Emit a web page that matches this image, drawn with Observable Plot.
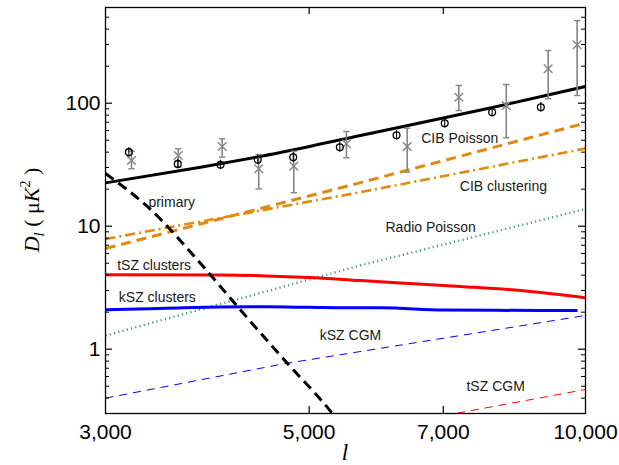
<!DOCTYPE html>
<html><head><meta charset="utf-8">
<script src="https://cdn.jsdelivr.net/npm/d3@7"></script>
<script src="https://cdn.jsdelivr.net/npm/@observablehq/plot@0.6"></script>
<style>body{margin:0;background:#fff}#chart{width:619px;height:465px}</style>
</head><body><div id="chart"></div>
<script>
// ---- data (multipole l, D_l in muK^2) ----
const totalL = [3000, 3808, 4653, 5687, 7920, 10000];
const totalD = [22.5, 30.2, 39.7, 54.6, 92.3, 136.7];
const primaryL = [3000, 3358, 3808, 4241, 4736, 5288, 5400];
const primaryD = [26.8, 13.7, 4.97, 1.95, 0.766, 0.306, 0.25];
const cibPL = [3000, 5687, 10000];
const cibPD = [6.59, 22.6, 69];
const cibCL = [3000, 5687, 10000];
const cibCD = [7.87, 18.9, 42.8];
const radioL = [3000, 5687, 10000];
const radioD = [1.29, 4.8, 13.8];
const tszL = [3000, 4000, 5000, 5687, 7309, 8648, 10000];
const tszD = [4.03, 4.02, 3.82, 3.61, 3.24, 2.96, 2.62];
const kszL = [3000, 3500, 4000, 4500, 5000, 5500, 6000, 7000, 8000, 9800];
const kszD = [2.09, 2.15, 2.20, 2.21, 2.19, 2.17, 2.17, 2.08, 2.07, 2.06];
const kcgmL = [3000, 4688, 10000];
const kcgmD = [0.40, 0.76, 1.88];
const tcgmL = [7000, 10000];
const tcgmD = [0.288, 0.47];

const circL  = [3181, 3596, 4003, 4395, 4804, 5400, 6225, 7025, 7912, 8940];
const circD  = [40.0, 32.1, 31.6, 34.7, 36.4, 43.9, 54.9, 68.8, 84.5, 92.8];
const circLo = [36.4, 29.2, 28.8, 31.6, 33.1, 40.0, 50.0, 62.6, 76.9, 84.4];
const circHi = [43.6, 35.0, 34.4, 37.8, 39.7, 47.9, 59.8, 75.0, 92.1, 101.2];

const crossL  = [3202, 3600, 4020, 4406, 4811, 5490, 6394, 7278, 8197, 9106, 9792];
const crossD  = [34.2, 37.6, 44.5, 29.3, 30.8, 46.8, 44.5, 111.9, 95.8, 190.5, 298.6];
const crossLo = [29.3, 30.2, 36.4, 20.1, 18.7, 36.0, 27.5, 87.2, 52.3, 108.6, 115.5];
const crossHi = [40.7, 42.6, 51.4, 38.3, 40.7, 58.9, 62.6, 139.3, 141.9, 268, 470];

const labelText = ["primary", "CIB Poisson", "CIB clustering", "Radio Poisson", "tSZ clusters", "kSZ clusters", "kSZ CGM", "tSZ CGM"];
const labelL = [3341, 6622, 7297, 6055, 3089, 3102, 5135, 7419];
const labelD = [14.45, 47.3, 19.3, 8.93, 4.40, 2.41, 1.18, 0.457];

const xTicks = [3000, 5000, 7000, 10000];
const xInnerTicks = [5000, 7000];
const yMajor = [1, 10, 100];
const yMinor = [0.3,0.4,0.5,0.6,0.7,0.8,0.9,2,3,4,5,6,7,8,9,20,30,40,50,60,70,80,90,200,300,400,500,600];

// ---- build ----
const W = 619, H = 465, mL = 105, mR = 34, mT = 7, mB = 52;
const pw = W - mL - mR, ph = H - mT - mB;
const zip = (L, D) => L.map((l, i) => ({l, d: D[i]}));
const font = "'Liberation Sans', Arial, Helvetica, sans-serif";

const cap = {draw(ctx, size) { const w = 3.2; ctx.moveTo(-w, 0); ctx.lineTo(w, 0); }};

const lineMark = (L, D, o) => Plot.line(zip(L, D), {x: "l", y: "d", clip: true, strokeLinecap: "butt", ...o});

const circles = circL.map((l, i) => ({l, d: circD[i], lo: circLo[i], hi: circHi[i]}));
const crosses = crossL.map((l, i) => ({l, d: crossD[i], lo: crossLo[i], hi: crossHi[i]}));
const labels = labelText.map((t, i) => ({t, l: labelL[i], d: labelD[i]}));

const chart = Plot.plot({
  width: W, height: H,
  marginLeft: mL, marginRight: mR, marginTop: mT, marginBottom: mB,
  style: {fontFamily: font, background: "#fff", color: "#000"},
  x: {type: "log", domain: [3000, 10000], label: null},
  y: {type: "log", domain: [0.3, 600], label: null},
  marks: [
    // thin CGM lines
    lineMark(kcgmL, kcgmD, {stroke: "#0000ff", strokeWidth: 1, strokeDasharray: "8,6"}),
    lineMark(tcgmL, tcgmD, {stroke: "#ff0000", strokeWidth: 1, strokeDasharray: "8,6"}),
    // radio
    lineMark(radioL, radioD, {stroke: "#4a9a7e", strokeWidth: 2.4, strokeDasharray: "1.2,3.2"}),
    // CIB
    lineMark(cibCL, cibCD, {stroke: "#e3890f", strokeWidth: 2.6, strokeDasharray: "10,4,2,4"}),
    lineMark(cibPL, cibPD, {stroke: "#e3890f", strokeWidth: 3, strokeDasharray: "10,6"}),
    // SZ clusters
    lineMark(tszL, tszD, {stroke: "#ff0000", strokeWidth: 3, curve: "monotone-x"}),
    lineMark(kszL, kszD, {stroke: "#0000ff", strokeWidth: 3, curve: "monotone-x"}),
    // primary
    lineMark(primaryL, primaryD, {stroke: "#000", strokeWidth: 3, strokeDasharray: "10,6", curve: "monotone-x"}),
    // total
    lineMark(totalL, totalD, {stroke: "#000", strokeWidth: 3, curve: "monotone-x"}),
    // gray crosses with error bars
    Plot.ruleX(crosses, {x: "l", y1: "lo", y2: "hi", stroke: "#858585", strokeWidth: 1.6}),
    Plot.dot(crosses, {x: "l", y: "lo", symbol: cap, r: 3, stroke: "#858585", strokeWidth: 1.4}),
    Plot.dot(crosses, {x: "l", y: "hi", symbol: cap, r: 3, stroke: "#858585", strokeWidth: 1.4}),
    Plot.dot(crosses, {x: "l", y: "d", symbol: "times", r: 4, stroke: "#858585", strokeWidth: 1.4}),
    // black circles with small error bars
    Plot.ruleX(circles, {x: "l", y1: "lo", y2: "hi", stroke: "#000", strokeWidth: 1.1}),
    Plot.dot(circles, {x: "l", y: "d", symbol: "circle", r: 3.4, stroke: "#000", strokeWidth: 1.3, fill: "none"}),
    // curve labels
    Plot.text(labels, {x: "l", y: "d", text: "t", textAnchor: "start", lineAnchor: "bottom", fontSize: 14, fill: "#1a1a1a", fontFamily: font}),
    // inner ticks
    Plot.tickY(yMajor, {stroke: "#000", strokeWidth: 1.2, insetRight: pw - 7}),
    Plot.tickY(yMinor, {stroke: "#000", strokeWidth: 1, insetRight: pw - 4}),
    Plot.tickY(yMajor, {stroke: "#000", strokeWidth: 1.2, insetLeft: pw - 7}),
    Plot.tickY(yMinor, {stroke: "#000", strokeWidth: 1, insetLeft: pw - 4}),
    Plot.tickX(xInnerTicks, {stroke: "#000", strokeWidth: 1.2, insetTop: ph - 7}),
    Plot.tickX(xInnerTicks, {stroke: "#000", strokeWidth: 1.2, insetBottom: ph - 7}),
    Plot.frame({stroke: "#000", strokeWidth: 1.3}),
    Plot.axisX({ticks: xTicks, tickFormat: d3.format(","), tickSize: 0, tickPadding: 11, label: null, fontSize: 21, fontFamily: font}),
    Plot.axisY({ticks: yMajor, tickFormat: d => String(d), tickSize: 0, tickPadding: 5, label: null, fontSize: 21, fontFamily: font})
  ]
});

// axis titles as real SVG text
const svg = d3.select(chart);
const serif = "'Liberation Serif', 'Times New Roman', Times, serif";
const yl = svg.append("text")
  .attr("transform", `translate(38.5,${mT + ph / 2}) rotate(-90)`)
  .attr("text-anchor", "middle")
  .attr("font-family", serif).attr("font-size", 22).attr("fill", "#000");
yl.append("tspan").attr("font-style", "italic").text("D");
yl.append("tspan").attr("font-style", "italic").attr("font-size", 15).attr("dy", 5).text("l");
yl.append("tspan").attr("dy", -5).text(" ( \u03bc");
yl.append("tspan").attr("font-style", "italic").text("K");
yl.append("tspan").attr("font-size", 14).attr("dy", -9).text("2");
yl.append("tspan").attr("dy", 9).text(" )");

svg.append("text")
  .attr("x", mL + pw / 2).attr("y", 460)
  .attr("text-anchor", "middle")
  .attr("font-family", serif).attr("font-style", "italic").attr("font-size", 23).attr("fill", "#000")
  .text("l");

document.getElementById("chart").appendChild(chart);
</script>
</body></html>
